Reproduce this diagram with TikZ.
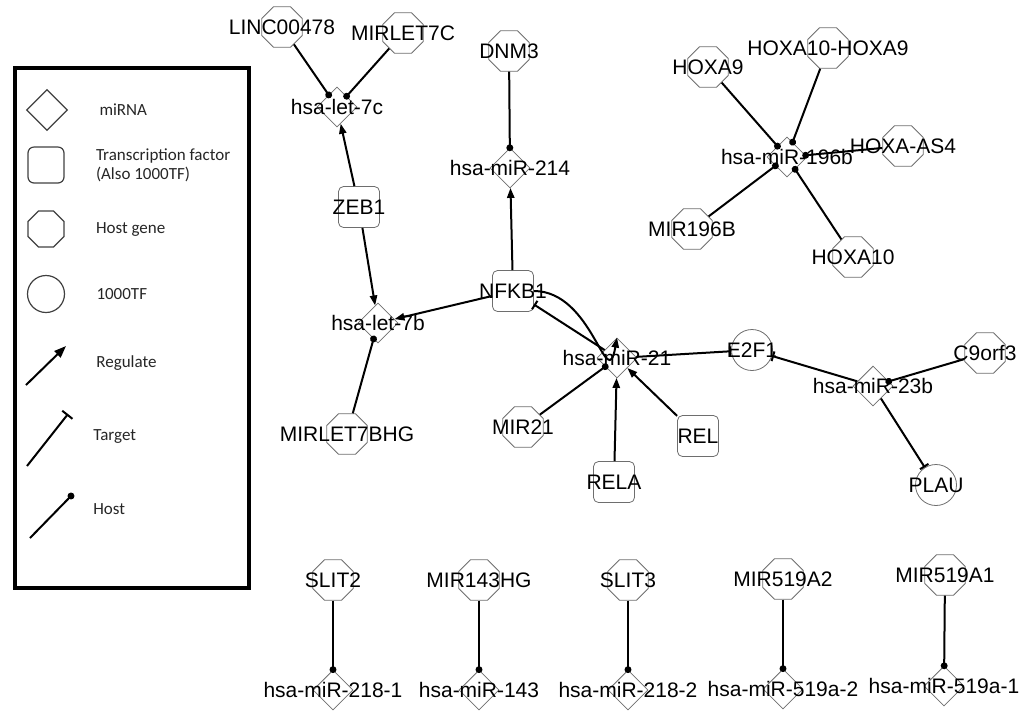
\documentclass[tikz,border=0pt]{standalone}
\usepackage{fontspec}
\setmainfont{Liberation Sans}
\newfontfamily\legendfont{Carlito}
\usepackage{tikz}
\usetikzlibrary{positioning,arrows.meta,shapes.geometric}
\definecolor{shapegray}{RGB}{110,110,110}
\newcommand{\nodetext}[1]{\makebox[0pt]{#1}}

\begin{document}
\begin{tikzpicture}[x=0.5pt, y=-0.5pt, font=\fontsize{10.5}{12}\selectfont, node distance=15.5pt,
  mirna/.style={diamond, draw=shapegray, inner sep=0pt, minimum size=20pt},
  tfbox/.style={rectangle, rounded corners=2.5pt, draw=shapegray, inner sep=0pt, minimum size=20.5pt},
  hostgene/.style={regular polygon, regular polygon sides=8, draw=shapegray, inner sep=0pt, minimum size=22pt},
  tfcirc/.style={circle, draw=shapegray, inner sep=0pt, minimum size=20.5pt},
  reg/.style={line width=1pt, -{Triangle[length=5pt, width=3.6pt]}},
  tgt/.style={line width=1pt, -{Bar[width=5pt]}},
  hst/.style={line width=1pt, -{Circle[length=3.4pt]}, shorten >=-1.7pt},
  legshape/.style={draw=black!75, line width=0.6pt},
  legtext/.style={font=\legendfont\fontsize{8.5}{9.5}\selectfont, text=black!85, inner sep=0pt, align=left}]
  \useasboundingbox (0,0) rectangle (1029,720);

  % legend
  \draw[line width=2pt] (15,68) rectangle (249,588);
  \node[mirna, legshape, minimum size=20.5pt] (lgmir) at (47,110) {};
  \node[legtext, right=of lgmir] {miRNA};
  \node[tfbox, legshape, minimum size=18pt, rounded corners=3pt] (lgtf) at (46,165) {};
  \node[legtext, right=of lgtf] {Transcription factor\\(Also 1000TF)};
  \node[hostgene, legshape, minimum size=19.5pt] (lghost) at (46,229) {};
  \node[legtext, right=of lghost] {Host gene};
  \node[tfcirc, legshape, minimum size=18.5pt] (lgtfc) at (46,294) {};
  \node[legtext, right=of lgtfc] {1000TF};
  \coordinate (lgr1) at (26,385); \coordinate (lgr2) at (66,346);
  \coordinate (lgt1) at (27,466); \coordinate (lgt2) at (68,414);
  \coordinate (lgh1) at (30,538); \coordinate (lgh2) at (71,496);
  \draw[line width=1pt, -{Triangle[length=6pt, width=4.4pt]}] (lgr1) -- (lgr2);
  \draw[line width=1pt, -{Bar[width=6.5pt]}] (lgt1) -- (lgt2);
  \draw[hst] (lgh1) -- (lgh2);
  \node[legtext, anchor=west] at (96,363) {Regulate};
  \node[legtext, anchor=west] at (93,436) {Target};
  \node[legtext, anchor=west] at (93,509) {Host};

  % miRNAs
  \node[mirna] (let7c) at (337,107) {\nodetext{hsa-let-7c}};
  \node[mirna] (mir214) at (510,168) {\nodetext{hsa-miR-214}};
  \node[mirna] (let7b) at (378,323) {\nodetext{hsa-let-7b}};
  \node[mirna] (mir21) at (617,358) {\nodetext{hsa-miR-21}};
  \node[mirna] (mir23b) at (873,386) {\nodetext{hsa-miR-23b}};
  \node[mirna] (mir196b) at (787,157) {\nodetext{hsa-miR-196b}};
  \node[mirna] (mir2181) at (333,690) {\nodetext{hsa-miR-218-1}};
  \node[mirna] (mir143) at (479,690) {\nodetext{hsa-miR-143}};
  \node[mirna] (mir2182) at (628,690) {\nodetext{hsa-miR-218-2}};
  \node[mirna] (mir519a2) at (783,689) {\nodetext{hsa-miR-519a-2}};
  \node[mirna] (mir519a1) at (944,686) {\nodetext{hsa-miR-519a-1}};

  % transcription factors
  \node[tfbox] (zeb1) at (359,207) {\nodetext{ZEB1}};
  \node[tfbox] (nfkb1) at (513,291) {\nodetext{NFKB1}};
  \node[tfbox] (rela) at (614,482) {\nodetext{RELA}};
  \node[tfbox] (rel) at (698,436) {\nodetext{REL}};
  \node[tfcirc] (e2f1) at (752,350) {\nodetext{E2F1}};
  \node[tfcirc] (plau) at (936,485) {\nodetext{PLAU}};

  % host genes
  \node[hostgene] (linc) at (282,27) {\nodetext{LINC00478}};
  \node[hostgene] (mirlet7c) at (403,33) {\nodetext{MIRLET7C}};
  \node[hostgene] (dnm3) at (509,51) {\nodetext{DNM3}};
  \node[hostgene] (mirlet7bhg) at (347,434) {\nodetext{MIRLET7BHG}};
  \node[hostgene] (mir21hg) at (523,427) {\nodetext{MIR21}};
  \node[hostgene] (c9orf3) at (985,353) {\nodetext{C9orf3}};
  \node[hostgene] (hoxa9) at (708,67) {\nodetext{HOXA9}};
  \node[hostgene] (hoxa10a9) at (828,48) {\nodetext{HOXA10-HOXA9}};
  \node[hostgene] (hoxaas4) at (903,146) {\nodetext{HOXA-AS4}};
  \node[hostgene] (mir196bhg) at (692,229) {\nodetext{MIR196B}};
  \node[hostgene] (hoxa10) at (853,257) {\nodetext{HOXA10}};
  \node[hostgene] (slit2) at (333,580) {\nodetext{SLIT2}};
  \node[hostgene] (mir143hg) at (479,580) {\nodetext{MIR143HG}};
  \node[hostgene] (slit3) at (628,580) {\nodetext{SLIT3}};
  \node[hostgene] (mir519a2hg) at (783,579) {\nodetext{MIR519A2}};
  \node[hostgene] (mir519a1hg) at (945,575) {\nodetext{MIR519A1}};

  % regulate
  \draw[reg] (zeb1) -- (let7c);
  \draw[reg] (zeb1) -- (let7b);
  \draw[reg] (nfkb1) -- (mir214);
  \draw[reg] (nfkb1) -- (let7b);
  \draw[reg] (nfkb1.east) to[out=0, in=-100, looseness=1.6] (mir21.north);
  \draw[reg] (rela) -- (mir21);
  \draw[reg] (rel) -- (mir21);
  % target
  \draw[tgt] (mir21) -- (nfkb1);
  \draw[tgt] (mir21) -- (e2f1);
  \draw[tgt] (mir23b) -- (e2f1);
  \draw[tgt] (mir23b) -- (plau);
  % host
  \draw[hst] (linc) -- (let7c);
  \draw[hst] (mirlet7c) -- (let7c);
  \draw[hst] (dnm3) -- (mir214);
  \draw[hst] (mirlet7bhg) -- (let7b);
  \draw[hst] (mir21hg) -- (mir21);
  \draw[hst] (c9orf3) -- (mir23b);
  \foreach \g in {hoxa9, hoxa10a9, hoxaas4, mir196bhg, hoxa10}
    \draw[hst] (\g) -- (mir196b);
  \draw[hst] (slit2) -- (mir2181);
  \draw[hst] (mir143hg) -- (mir143);
  \draw[hst] (slit3) -- (mir2182);
  \draw[hst] (mir519a2hg) -- (mir519a2);
  \draw[hst] (mir519a1hg) -- (mir519a1);
\end{tikzpicture}
\end{document}
